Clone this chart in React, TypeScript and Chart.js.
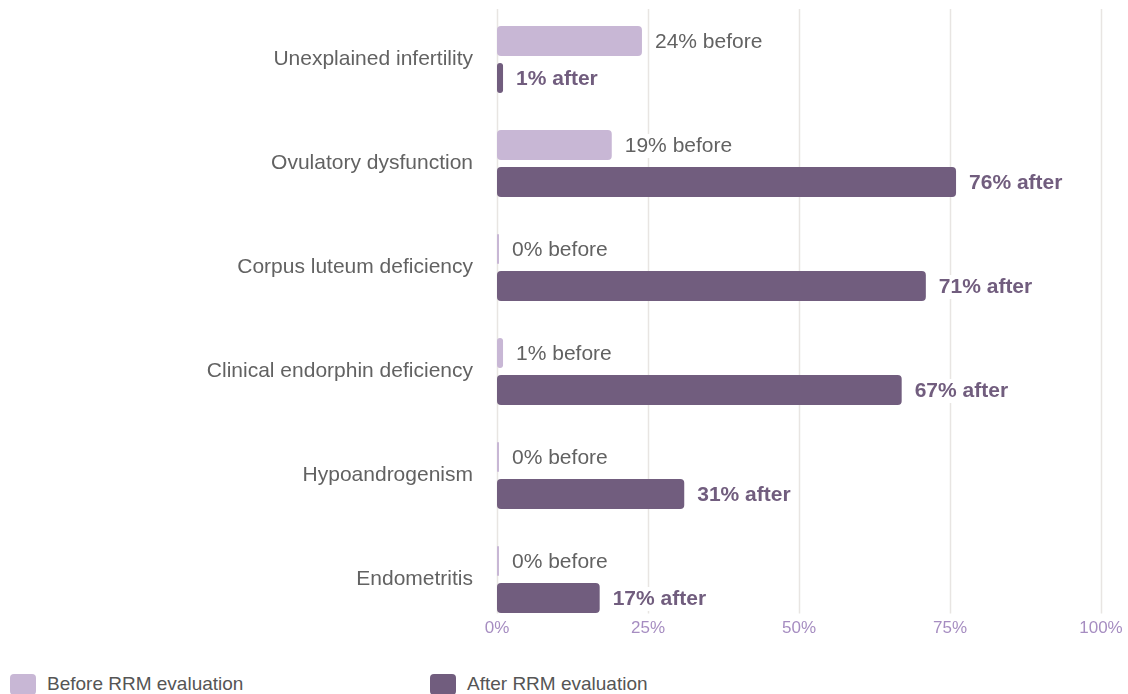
import React, { useEffect, useRef } from "react";
import { Chart, registerables } from "chart.js";

Chart.register(...registerables);

const categories = [
  "Unexplained infertility",
  "Ovulatory dysfunction",
  "Corpus luteum deficiency",
  "Clinical endorphin deficiency",
  "Hypoandrogenism",
  "Endometritis",
];
const beforeValues = [24, 19, 0, 1, 0, 0];
const afterValues = [1, 76, 71, 67, 31, 17];
const xTickValues = [0, 25, 50, 75, 100];
const seriesNames = ["Before RRM evaluation", "After RRM evaluation"];
const seriesSuffix = ["before", "after"];

const BEFORE_COLOR = "#c8b7d5";
const AFTER_COLOR = "#715d7e";
const FONT = '"Liberation Sans", Arial, Helvetica, sans-serif';

// Vertical grid lines and percentage ticks, positioned from the x scale.
const gridAndTicks = {
  id: "gridAndTicks",
  beforeDatasetsDraw(chart: any) {
    const { ctx, chartArea, scales } = chart;
    const x = scales.x;
    ctx.save();
    ctx.strokeStyle = "#e8e5e2";
    ctx.lineWidth = 1.5;
    xTickValues.forEach((v) => {
      const px = Math.round(x.getPixelForValue(v)) + 0.5;
      ctx.beginPath();
      ctx.moveTo(px, chartArea.top + 1.5);
      ctx.lineTo(px, chartArea.bottom - 18);
      ctx.stroke();
    });
    ctx.restore();
  },
  afterDraw(chart: any) {
    const { ctx, chartArea, scales } = chart;
    const x = scales.x;
    ctx.save();
    ctx.fillStyle = "#a68dc1";
    ctx.font = `17px ${FONT}`;
    ctx.textAlign = "center";
    ctx.textBaseline = "middle";
    xTickValues.forEach((v) => {
      ctx.fillText(`${v}%`, x.getPixelForValue(v), chartArea.bottom - 3);
    });
    ctx.restore();
  },
};

// Value labels to the right of each bar, on a white backing.
const valueLabels = {
  id: "valueLabels",
  afterDatasetsDraw(chart: any) {
    const { ctx } = chart;
    ctx.save();
    ctx.textBaseline = "middle";
    ctx.textAlign = "left";
    chart.data.datasets.forEach((ds: any, i: number) => {
      const meta = chart.getDatasetMeta(i);
      meta.data.forEach((bar: any, j: number) => {
        const text = `${ds.data[j]}% ${seriesSuffix[i]}`;
        ctx.font = i === 0 ? `21px ${FONT}` : `bold 21px ${FONT}`;
        const w = ctx.measureText(text).width;
        const lx = bar.x + 13;
        const ly = bar.y + 1;
        ctx.fillStyle = "#ffffff";
        ctx.fillRect(lx - 4, ly - 12, w + 8, 24);
        ctx.fillStyle = i === 0 ? "#626262" : AFTER_COLOR;
        ctx.fillText(text, lx, ly);
      });
    });
    ctx.restore();
  },
};

export default function App() {
  const canvasRef = useRef<HTMLCanvasElement | null>(null);

  useEffect(() => {
    document.body.style.margin = "0";
    const canvas = canvasRef.current;
    if (!canvas) return;
    const chart = new Chart(canvas, {
      type: "bar",
      data: {
        labels: categories,
        datasets: [
          {
            label: seriesNames[0],
            data: beforeValues,
            backgroundColor: BEFORE_COLOR,
            borderRadius: 4,
            borderSkipped: false,
            minBarLength: 2,
          },
          {
            label: seriesNames[1],
            data: afterValues,
            backgroundColor: AFTER_COLOR,
            borderRadius: 4,
            borderSkipped: false,
            minBarLength: 2,
          },
        ],
      },
      options: {
        indexAxis: "y",
        responsive: false,
        devicePixelRatio: 1,
        animation: false,
        layout: { padding: { top: 7.5, right: 27, bottom: 28.5, left: 0 } },
        datasets: { bar: { categoryPercentage: 0.7115, barPercentage: 0.811 } },
        plugins: {
          legend: { display: false },
          tooltip: { enabled: false },
        },
        scales: {
          x: {
            display: false,
            min: 0,
            max: 100,
          },
          y: {
            grid: { display: false, drawTicks: false },
            border: { display: false },
            ticks: {
              color: "#626262",
              font: { family: FONT, size: 21 },
              padding: 24,
            },
            afterFit(scale: any) {
              scale.width = 497;
              scale.paddingTop = 0;
              scale.paddingBottom = 0;
            },
          },
        },
      },
      plugins: [gridAndTicks, valueLabels],
    });
    return () => chart.destroy();
  }, []);

  const colors = [BEFORE_COLOR, AFTER_COLOR];
  return (
    <div style={{ position: "relative", width: 1128, height: 694, overflow: "hidden", fontFamily: FONT }}>
      <canvas ref={canvasRef} width={1128} height={660} style={{ display: "block" }} />
      {seriesNames.map((name, i) => (
        <div
          key={name}
          style={{
            position: "absolute",
            left: 10 + i * 420,
            top: 673,
            display: "flex",
            alignItems: "center",
            height: 22,
          }}
        >
          <span
            style={{
              display: "inline-block",
              width: 26,
              height: 21,
              borderRadius: 4,
              background: colors[i],
              marginRight: 11,
            }}
          />
          <span style={{ fontSize: 19, color: "#555555", lineHeight: "22px" }}>{name}</span>
        </div>
      ))}
    </div>
  );
}
